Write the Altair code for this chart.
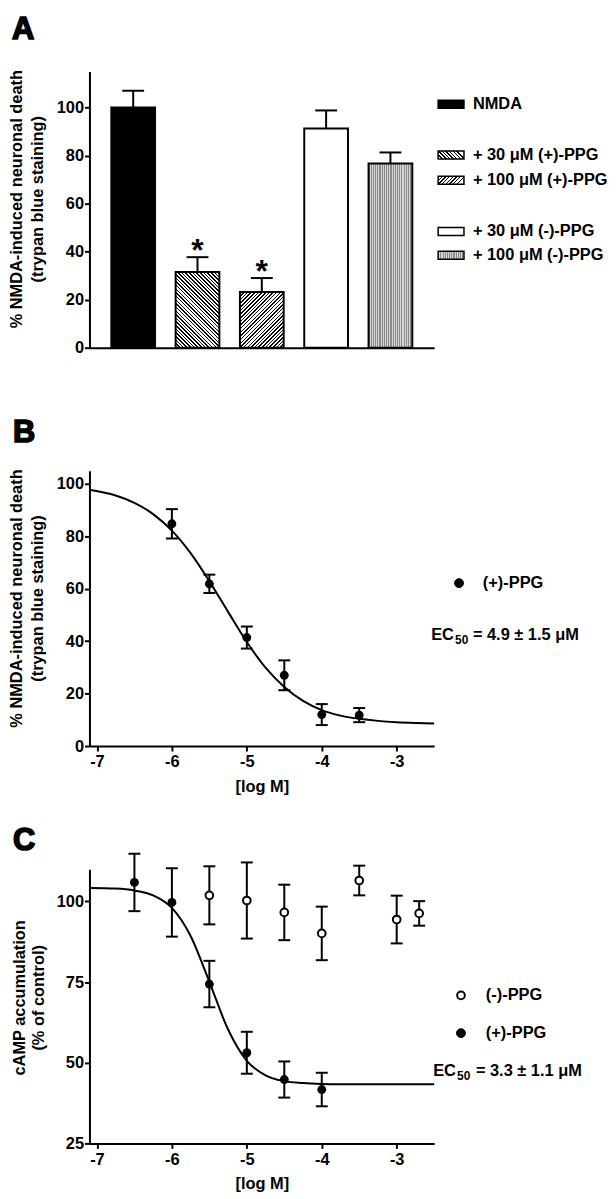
import math
import altair as alt
import pandas as pd

FONT = "Liberation Sans"

# ---------------- Panel A: bar chart ----------------
a_categories = ["NMDA", "+ 30 μM (+)-PPG", "+ 100 μM (+)-PPG", "+ 30 μM (-)-PPG", "+ 100 μM (-)-PPG"]
a_values = [100.0, 31.5, 23.2, 91.3, 76.7]
a_sem = [7.0, 6.2, 5.8, 7.5, 4.6]
a_significant = [False, True, True, False, False]
a_ytitle = ["% NMDA-induced neuronal death", "(trypan blue staining)"]

# ---------------- Panel B: (+)-PPG dose response ----------------
b_log_conc = [-6.0, -5.5, -5.0, -4.5, -4.0, -3.5]
b_values = [84.8, 61.9, 41.4, 27.0, 12.0, 11.8]
b_sem = [5.6, 3.5, 4.2, 5.7, 4.0, 2.7]
b_curve_x = [-7.1, -6.75, -6.5, -6.25, -6.0, -5.75, -5.5, -5.25, -5.0, -4.75,
             -4.5, -4.25, -4.0, -3.75, -3.5, -3.25, -3.0, -2.75, -2.5]
b_curve_y = [97.8, 95.6, 92.8, 88.5, 82.2, 73.6, 62.9, 51.2, 39.7, 29.9,
             22.5, 17.2, 13.7, 11.6, 10.4, 9.6, 9.1, 8.8, 8.6]
b_series = "(+)-PPG"
b_ec50 = "= 4.9 ± 1.5 μM"

# ---------------- Panel C: cAMP accumulation ----------------
c_plus_log_conc = [-6.5, -6.0, -5.5, -5.0, -4.5, -4.0]
c_plus_values = [105.9, 99.7, 74.4, 53.1, 44.8, 41.7]
c_plus_sem = [8.9, 10.6, 7.2, 6.5, 5.6, 5.2]
c_minus_log_conc = [-5.5, -5.0, -4.5, -4.0, -3.5, -3.0, -2.7]
c_minus_values = [101.9, 100.3, 96.6, 90.1, 106.5, 94.4, 96.3]
c_minus_sem = [9.0, 11.8, 8.6, 8.3, 4.6, 7.4, 3.8]
c_curve_x = [-7.1, -6.75, -6.5, -6.25, -6.0, -5.75, -5.5, -5.25, -5.0, -4.75,
             -4.5, -4.25, -4.0, -3.75, -3.5, -3.25, -3.0, -2.75, -2.5]
c_curve_y = [104.2, 104.0, 103.4, 101.9, 98.0, 89.3, 75.1, 60.3, 50.6, 46.1,
             44.3, 43.7, 43.4, 43.3, 43.3, 43.3, 43.3, 43.3, 43.3]
c_series = ["(-)-PPG", "(+)-PPG"]
c_ec50 = "= 3.3 ± 1.1 μM"
c_ytitle = ["cAMP accumulation", "(% of control)"]

xlog_title = "[log M]"

# ---------------- layout constants ----------------
W = 347
HA, HB, HC = 278, 277, 276
A_YMAX, B_YMAX = 115, 105
C_YMIN, C_YMAX = 25, 110
TICK_FS = 16.5
TITLE_FS = 16.5
LEG_FS = 16.5
LETTER_FS = 31

one = pd.DataFrame({"k": [0]})


def hatch_fill(w, h, direction, period=2.6, dark=0.42, c_dark="black", c_light="white"):
    if direction == "|":
        x1, y1, x2, y2 = 0, 0, 1, 0
        tp = period / w
    else:
        a = h / w
        span = w * (1 + a * a)
        tp = period * math.sqrt(2) / span
        if direction == "/":
            x1, y1, x2, y2 = 0, 0, 1, a
        else:
            x1, y1, x2, y2 = 0, 1, 1, 1 - a
    stops = []
    t = 0.0
    while t < 1.0:
        m = min(t + tp * dark, 1.0)
        e = min(t + tp, 1.0)
        stops += [
            {"offset": round(t, 5), "color": c_dark},
            {"offset": round(m, 5), "color": c_dark},
            {"offset": round(m, 5), "color": c_light},
            {"offset": round(e, 5), "color": c_light},
        ]
        t += tp
    return {"gradient": "linear", "x1": x1, "y1": y1, "x2": x2, "y2": y2, "stops": stops}


def letter(txt, dx, dy):
    return alt.Chart(one).mark_text(
        align="left", baseline="alphabetic", fontSize=LETTER_FS, fontWeight="bold", font=FONT,
        color="black", stroke="black", strokeWidth=1.6
    ).encode(x=alt.value(dx), y=alt.value(dy), text=alt.value(txt))


def label(txt, dx, dy, fs=LEG_FS, baseline="middle"):
    return alt.Chart(one).mark_text(
        align="left", baseline=baseline, fontSize=fs, fontWeight="bold", font=FONT, color="black"
    ).encode(x=alt.value(dx), y=alt.value(dy), text=alt.value(txt))


def dot(dx, dy, filled=True):
    return alt.Chart(one).mark_point(
        shape="circle", filled=True, fill="black" if filled else "white", stroke="black",
        strokeWidth=1 if filled else 2, size=80 if filled else 60, opacity=1
    ).encode(x=alt.value(dx), y=alt.value(dy))


# ======================= Panel A =======================
dfA = pd.DataFrame({"cat": a_categories, "val": a_values, "sem": a_sem, "sig": a_significant})
dfA["top"] = dfA["val"] + dfA["sem"]

pad_inner, pad_outer = 0.32, 0.34
step = W / (len(a_categories) - pad_inner + 2 * pad_outer)
bw = step * (1 - pad_inner)

xA = alt.X("cat:N", sort=a_categories,
           scale=alt.Scale(domain=a_categories, paddingInner=pad_inner, paddingOuter=pad_outer),
           axis=alt.Axis(labels=False, ticks=False, title=None))
yA_axis = alt.Axis(
    values=list(range(0, 111, 10)),
    labelExpr="datum.value % 20 == 0 ? datum.label : ''",
    tickSize={"condition": {"test": "datum.value % 20 != 0", "value": 3}, "value": 5},
    labelPadding=1,
    title=a_ytitle, titleX=-81, titleY=128, titleAngle=-90, titleBaseline="top",
    titleAlign="center", titleLineHeight=21,
)
yA = alt.Y("val:Q", scale=alt.Scale(domain=[0, A_YMAX], nice=False), axis=yA_axis)


def px_h(v):
    return v / A_YMAX * HA


fills = [
    "black",
    hatch_fill(bw, px_h(a_values[1]), "\\"),
    hatch_fill(bw, px_h(a_values[2]), "/"),
    "white",
    hatch_fill(bw, px_h(a_values[4]), "|", period=2.2, dark=0.5, c_dark="#8a8a8a", c_light="#d6d6d6"),
]
swatch_fills = [
    "black",
    hatch_fill(26, 8, "\\"),
    hatch_fill(26, 8, "/"),
    "white",
    hatch_fill(26, 8, "|", period=2.2, dark=0.5, c_dark="#8a8a8a", c_light="#d6d6d6"),
]

layersA = []
for cat, f in zip(a_categories, fills):
    layersA.append(
        alt.Chart(dfA).transform_filter(alt.datum.cat == cat)
        .mark_bar(fill=f, stroke="black", strokeWidth=2)
        .encode(x=xA, y=yA)
    )
layersA.append(alt.Chart(dfA).mark_rule(color="black", strokeWidth=2).encode(x=xA, y="val:Q", y2="top:Q"))
layersA.append(alt.Chart(dfA).mark_tick(color="black", thickness=2, size=22, orient="horizontal", opacity=1)
               .encode(x=xA, y="top:Q"))
layersA.append(alt.Chart(dfA).transform_filter("datum.sig")
               .mark_text(text="*", fontSize=32, fontWeight="bold", font=FONT, baseline="alphabetic",
                          dy=4, color="black")
               .encode(x=xA, y="top:Q"))

leg_rows_A = [33, 84, 109.5, 161, 185]
for cat, f, ry in zip(a_categories, swatch_fills, leg_rows_A):
    layersA.append(alt.Chart(one).mark_rect(fill=f, stroke="black", strokeWidth=1.5)
                   .encode(x=alt.value(351), x2=alt.value(377), y=alt.value(ry - 4), y2=alt.value(ry + 4)))
    layersA.append(label(cat, 386, ry))
layersA.append(letter("A", -78, -33))

panelA = alt.layer(*layersA).properties(width=W, height=HA)

# ======================= Panel B =======================
dfB = pd.DataFrame({"x": b_log_conc, "y": b_values, "sem": b_sem})
dfB["lo"] = dfB["y"] - dfB["sem"]
dfB["hi"] = dfB["y"] + dfB["sem"]
dfBc = pd.DataFrame({"x": b_curve_x, "y": b_curve_y})


def xlog_axis():
    return alt.Axis(values=[-7, -6, -5, -4, -3], labelExpr="'' + datum.value", tickSize=5,
                    labelPadding=3, title=xlog_title, titlePadding=8)


xB = alt.X("x:Q", scale=alt.Scale(domain=[-7.1, -2.5], nice=False, zero=False), axis=xlog_axis())
yB_axis = alt.Axis(
    values=list(range(0, 101, 10)),
    labelExpr="datum.value % 20 == 0 ? datum.label : ''",
    tickSize={"condition": {"test": "datum.value % 20 != 0", "value": 3}, "value": 5},
    labelPadding=1,
    title=a_ytitle, titleX=-81, titleY=128, titleAngle=-90, titleBaseline="top",
    titleAlign="center", titleLineHeight=21,
)
yB = alt.Y("y:Q", scale=alt.Scale(domain=[0, B_YMAX], nice=False), axis=yB_axis)

layersB = [
    alt.Chart(dfBc).mark_line(color="black", strokeWidth=2, interpolate="monotone").encode(x=xB, y=yB),
    alt.Chart(dfB).mark_rule(color="black", strokeWidth=2).encode(x="x:Q", y="lo:Q", y2="hi:Q"),
    alt.Chart(dfB).mark_tick(color="black", thickness=2, size=12, orient="horizontal", opacity=1).encode(x="x:Q", y="lo:Q"),
    alt.Chart(dfB).mark_tick(color="black", thickness=2, size=12, orient="horizontal", opacity=1).encode(x="x:Q", y="hi:Q"),
    alt.Chart(dfB).mark_point(shape="circle", filled=True, color="black", size=80, opacity=1).encode(x="x:Q", y="y:Q"),
    dot(372, 113, True),
    label(b_series, 396, 113),
    label("EC", 344, 170, baseline="alphabetic"),
    label("50", 368, 174, fs=12, baseline="alphabetic"),
    label(b_ec50, 386, 170, baseline="alphabetic"),
    letter("B", -77, -29),
]
panelB = alt.layer(*layersB).properties(width=W, height=HB)

# ======================= Panel C =======================
dfCp = pd.DataFrame({"x": c_plus_log_conc, "y": c_plus_values, "sem": c_plus_sem})
dfCm = pd.DataFrame({"x": c_minus_log_conc, "y": c_minus_values, "sem": c_minus_sem})
for d in (dfCp, dfCm):
    d["lo"] = d["y"] - d["sem"]
    d["hi"] = d["y"] + d["sem"]
dfCc = pd.DataFrame({"x": c_curve_x, "y": c_curve_y})

xC = alt.X("x:Q", scale=alt.Scale(domain=[-7.1, -2.5], nice=False, zero=False), axis=xlog_axis())
yC_axis = alt.Axis(
    values=[25, 50, 75, 100], tickSize=5, labelPadding=1,
    title=c_ytitle, titleX=-78, titleY=129, titleAngle=-90, titleBaseline="top",
    titleAlign="center", titleLineHeight=19,
)
yC = alt.Y("y:Q", scale=alt.Scale(domain=[C_YMIN, C_YMAX], nice=False, zero=False), axis=yC_axis)


def err_layers(d):
    return [
        alt.Chart(d).mark_rule(color="black", strokeWidth=2).encode(x="x:Q", y="lo:Q", y2="hi:Q"),
        alt.Chart(d).mark_tick(color="black", thickness=2, size=12, orient="horizontal", opacity=1).encode(x="x:Q", y="lo:Q"),
        alt.Chart(d).mark_tick(color="black", thickness=2, size=12, orient="horizontal", opacity=1).encode(x="x:Q", y="hi:Q"),
    ]


layersC = [alt.Chart(dfCc).mark_line(color="black", strokeWidth=2, interpolate="monotone").encode(x=xC, y=yC)]
layersC += err_layers(dfCm) + err_layers(dfCp)
layersC += [
    alt.Chart(dfCm).mark_point(shape="circle", filled=True, fill="white", stroke="black", strokeWidth=2,
                               size=60, opacity=1).encode(x="x:Q", y="y:Q"),
    alt.Chart(dfCp).mark_point(shape="circle", filled=True, color="black", size=80, opacity=1).encode(x="x:Q", y="y:Q"),
    dot(374, 127, False),
    label(c_series[0], 399, 127),
    dot(374, 165, True),
    label(c_series[1], 399, 165),
    label("EC", 346, 208, baseline="alphabetic"),
    label("50", 370, 212, fs=12, baseline="alphabetic"),
    label(c_ec50, 389, 208, baseline="alphabetic"),
    letter("C", -77, -19),
]
panelC = alt.layer(*layersC).properties(width=W, height=HC)

chart = alt.vconcat(panelA, panelB, panelC, spacing=124, bounds="flush",
                    padding={"left": 0, "top": 2, "right": 0, "bottom": 0}).configure(
    font=FONT
).configure_view(stroke=None).configure_axis(
    grid=False, domainColor="black", domainWidth=2, tickColor="black", tickWidth=2,
    labelFont=FONT, labelFontSize=TICK_FS, labelFontWeight="bold", labelColor="black",
    titleFont=FONT, titleFontSize=TITLE_FS, titleFontWeight="bold", titleColor="black",
    labelOverlap=False,
)

chart.save("out.html", embed_options={"renderer": "svg", "actions": False})
